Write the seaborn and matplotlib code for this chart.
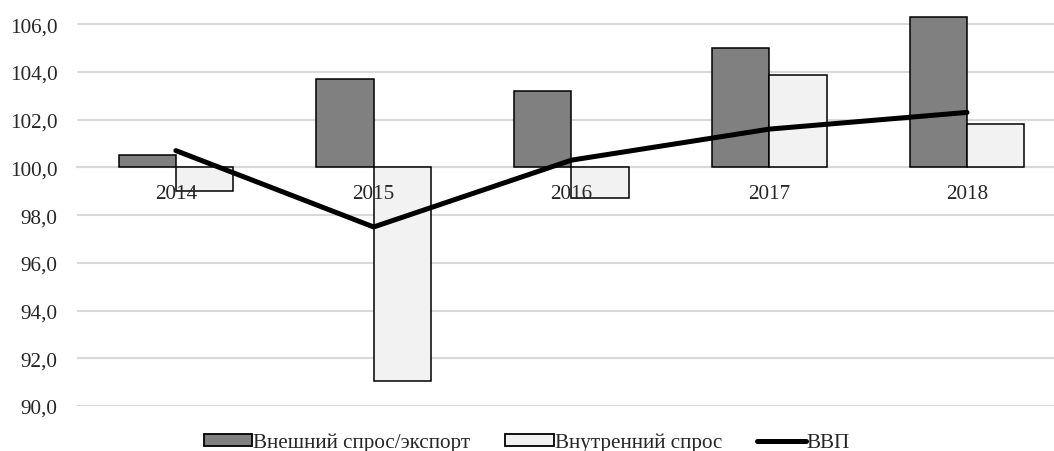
import numpy as np
import pandas as pd
import matplotlib
matplotlib.use('Agg')
import matplotlib.pyplot as plt
import seaborn as sns
from matplotlib.patches import Patch
from matplotlib.lines import Line2D
from matplotlib.ticker import FuncFormatter

years = ['2014', '2015', '2016', '2017', '2018']
export = [100.5, 103.7, 103.2, 105.0, 106.3]
domestic = [99.0, 91.05, 98.7, 103.85, 101.8]
gdp = [100.7, 97.5, 100.3, 101.6, 102.3]
names = ['Внешний спрос/экспорт', 'Внутренний спрос', 'ВВП']

sns.set_style('white')
plt.rcParams['font.family'] = ['Liberation Serif', 'DejaVu Serif']
plt.rcParams['font.size'] = 15.2

# bars grow from the 100 line, so plot deltas with bottom=100
df = pd.DataFrame({
    'year': years * 2,
    'series': [names[0]] * 5 + [names[1]] * 5,
    'delta': [v - 100 for v in export] + [v - 100 for v in domestic],
})

fig = plt.figure(figsize=(10.54, 4.52), dpi=100)
ax = fig.add_axes([77 / 1054, 45 / 452, 977 / 1054, 401 / 452])

sns.barplot(data=df, x='year', y='delta', hue='series', bottom=100,
            palette=['#808080', '#f2f2f2'], edgecolor='black', linewidth=1.1,
            width=0.58, errorbar=None, legend=False, ax=ax, zorder=2)
sns.lineplot(x=np.arange(len(years)), y=gdp, color='black', linewidth=3.6,
             ax=ax, zorder=4)

ax.set_ylim(90, 106.8)
ax.set_xlim(-0.5, 4.44)
ax.set_yticks(np.arange(90, 107, 2))
ax.yaxis.set_major_formatter(FuncFormatter(lambda v, p: f'{v:.1f}'.replace('.', ',')))
ax.grid(axis='y', color='#d9d9d9', linewidth=1.5)
ax.set_axisbelow(True)
ax.xaxis.set_zorder(3)

for s in ['top', 'right', 'left']:
    ax.spines[s].set_visible(False)
ax.spines['bottom'].set_position(('data', 100))
ax.spines['bottom'].set_color('#d9d9d9')
ax.spines['bottom'].set_linewidth(1.5)
ax.spines['bottom'].set_zorder(0)
ax.tick_params(axis='x', length=0, pad=12)
ax.tick_params(axis='y', length=0, pad=14)
ax.set_xlabel('')
ax.set_ylabel('')

handles = [Patch(facecolor='#808080', edgecolor='black', linewidth=1.3),
           Patch(facecolor='#f2f2f2', edgecolor='black', linewidth=1.3),
           Line2D([], [], color='black', linewidth=3.6)]
fig.legend(handles, names, loc='lower center', bbox_to_anchor=(0.5, -0.045),
           ncol=3, frameon=False, handlelength=2.3, handleheight=0.5,
           handletextpad=0.05, columnspacing=1.65)

fig.savefig('out.png', dpi=100)
